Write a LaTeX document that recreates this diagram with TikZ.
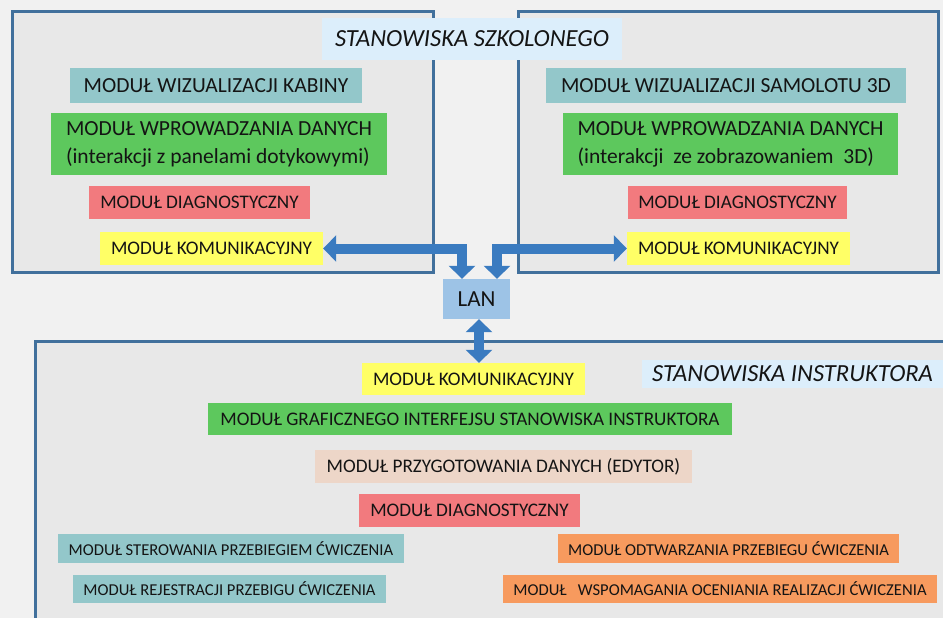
\documentclass[tikz,border=0pt]{standalone}
\usepackage{fontspec}
\setmainfont{Carlito}
\usetikzlibrary{arrows.meta}
\definecolor{bgc}{HTML}{F1F1F1}
\definecolor{framefill}{HTML}{E8E8E8}
\definecolor{framedraw}{HTML}{41709C}
\definecolor{titlec}{HTML}{DCEEFB}
\definecolor{tealc}{HTML}{93C7CA}
\definecolor{greenc}{HTML}{5DC85D}
\definecolor{redc}{HTML}{F27A7E}
\definecolor{yellowc}{HTML}{FFFF66}
\definecolor{peachc}{HTML}{EDD6C8}
\definecolor{orangec}{HTML}{F79A5E}
\definecolor{lanc}{HTML}{9DC3E6}
\definecolor{arrowc}{HTML}{3A7BC0}
\definecolor{txt}{HTML}{141414}
\tikzset{
  frame/.style={draw=framedraw, fill=framefill, line width=3pt},
  modbox/.style={rectangle, inner sep=0pt, text=txt},
  bigtxt/.style={font=\fontsize{21.5}{28}\selectfont},
  midtxt/.style={font=\fontsize{19.2}{24}\selectfont},
  smalltxt/.style={font=\fontsize{16.6}{20}\selectfont},
  titletxt/.style={font=\fontsize{24.6}{28}\selectfont\itshape},
  arr/.style={draw=arrowc, line width=10pt, line join=miter,
    {Triangle[width=26pt,length=13pt]}-{Triangle[width=26pt,length=13pt]}}
}
\begin{document}
\begin{tikzpicture}[x=1pt,y=-1pt]
\useasboundingbox (0,0) rectangle (943,618);
\clip (0,0) rectangle (943,618);
\fill[bgc] (0,0) rectangle (943,618);
% frames
\path[frame] (12,12) rectangle (433,272);
\path[frame] (518,12) rectangle (938,272);
\path[frame] (35,341) rectangle (990,680);
% titles
\node[modbox, fill=titlec, titletxt, minimum width=300pt, minimum height=42pt] (t1) at (472,39) {STANOWISKA SZKOLONEGO};
\node[modbox, fill=titlec, titletxt, minimum width=301pt, minimum height=28pt] (t2) at (792.5,374) {STANOWISKA INSTRUKTORA};
% left station
\node[modbox, fill=tealc, bigtxt, minimum width=292pt, minimum height=35pt] (wk) at (216,85.5) {MODUŁ WIZUALIZACJI KABINY};
\node[modbox, fill=greenc, bigtxt, align=left, minimum width=336pt, minimum height=62pt] (wd) at (219,144) {MODUŁ WPROWADZANIA DANYCH\\(interakcji z panelami dotykowymi)};
\node[modbox, fill=redc, midtxt, minimum width=221pt, minimum height=33pt] (dl) at (199.5,202.5) {MODUŁ DIAGNOSTYCZNY};
\node[modbox, fill=yellowc, midtxt, minimum width=223pt, minimum height=33pt] (kl) at (211.5,248.5) {MODUŁ KOMUNIKACYJNY};
% right station
\node[modbox, fill=tealc, bigtxt, minimum width=360pt, minimum height=35pt] (ws) at (726,85.5) {MODUŁ WIZUALIZACJI SAMOLOTU 3D};
\node[modbox, fill=greenc, bigtxt, align=left, minimum width=335pt, minimum height=62pt] (wdr) at (730.5,144) {MODUŁ WPROWADZANIA DANYCH\\(interakcji \ ze zobrazowaniem \ 3D)};
\node[modbox, fill=redc, midtxt, minimum width=219pt, minimum height=33pt] (dr) at (737.5,202.5) {MODUŁ DIAGNOSTYCZNY};
\node[modbox, fill=yellowc, midtxt, minimum width=223pt, minimum height=33pt] (kr) at (738.5,248.5) {MODUŁ KOMUNIKACYJNY};
% LAN
\node[modbox, fill=lanc, font=\fontsize{23}{28}\selectfont, minimum width=67pt, minimum height=40pt] (lan) at (476.5,299) {LAN};
% instructor station
\node[modbox, fill=yellowc, midtxt, minimum width=223pt, minimum height=32pt] (kb) at (473.5,379) {MODUŁ KOMUNIKACYJNY};
\node[modbox, fill=greenc, midtxt, minimum width=524pt, minimum height=32pt] (gb) at (470,419) {MODUŁ GRAFICZNEGO INTERFEJSU STANOWISKA INSTRUKTORA};
\node[modbox, fill=peachc, midtxt, minimum width=377pt, minimum height=33pt] (pb) at (503.5,466.5) {MODUŁ PRZYGOTOWANIA DANYCH (EDYTOR)};
\node[modbox, fill=redc, midtxt, minimum width=221pt, minimum height=33pt] (db) at (469.5,510.5) {MODUŁ DIAGNOSTYCZNY};
\node[modbox, fill=tealc, smalltxt, minimum width=346pt, minimum height=29pt] (sb) at (231,548.5) {MODUŁ STEROWANIA PRZEBIEGIEM ĆWICZENIA};
\node[modbox, fill=tealc, smalltxt, minimum width=313pt, minimum height=28pt] (rb) at (229.5,589) {MODUŁ REJESTRACJI PRZEBIGU ĆWICZENIA};
\node[modbox, fill=orangec, smalltxt, minimum width=341pt, minimum height=29pt] (ob) at (728.5,548.5) {MODUŁ ODTWARZANIA PRZEBIEGU ĆWICZENIA};
\node[modbox, fill=orangec, smalltxt, minimum width=434pt, minimum height=28pt] (wb) at (720,589) {MODUŁ \ \ WSPOMAGANIA OCENIANIA REALIZACJI ĆWICZENIA};
% arrows
\draw[arr] (kl.east) -| ([xshift=-14.5pt]lan.north);
\draw[arr] (kr.west) -| ([xshift=20.5pt]lan.north);
\draw[arr] ([xshift=2.5pt]lan.south) -- ([xshift=2.5pt]lan.south |- kb.north);
\end{tikzpicture}
\end{document}
